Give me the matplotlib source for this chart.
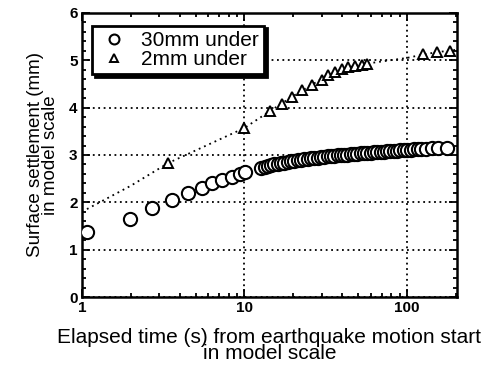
import matplotlib
matplotlib.use("Agg")
import matplotlib.pyplot as plt
from matplotlib.ticker import LogLocator, MultipleLocator, NullFormatter, FixedFormatter, FixedLocator

plt.rcParams['font.family'] = ['Liberation Sans', 'DejaVu Sans']

# 30mm under (circles)
t30 = [1.08, 1.97, 2.7, 3.6, 4.5, 5.5, 6.3, 7.3, 8.4, 9.4, 10.1,
       12.7, 13.3, 14.0, 14.6, 15.3, 16.0, 16.8, 17.6, 18.5, 19.4,
       20.3, 21.3, 22.3, 23.4, 24.5, 25.7, 26.9, 28.2, 29.6, 31.0,
       32.5, 34.0, 35.7, 37.4, 39.2, 41.0, 43.0, 45.1, 47.3, 49.5,
       51.9, 54.4, 57.0, 59.7, 62.6, 65.6, 68.7, 72.0, 75.5, 79.0,
       82.8, 86.8, 91.0, 95.3, 100, 105, 110, 116, 122, 131, 142, 155, 175]
s30 = [1.38, 1.65, 1.88, 2.05, 2.2, 2.3, 2.4, 2.47, 2.54, 2.6, 2.64,
       2.73, 2.75, 2.77, 2.79, 2.8, 2.82, 2.83, 2.84, 2.86, 2.87,
       2.88, 2.89, 2.9, 2.91, 2.92, 2.93, 2.94, 2.94, 2.95, 2.96,
       2.97, 2.97, 2.98, 2.99, 3.0, 3.0, 3.01, 3.02, 3.02, 3.03,
       3.04, 3.04, 3.05, 3.05, 3.06, 3.06, 3.07, 3.07, 3.08, 3.08,
       3.09, 3.09, 3.1, 3.1, 3.11, 3.11, 3.12, 3.12, 3.13, 3.13, 3.14, 3.14, 3.15]

# 2mm under (triangles)
t2 = [3.4, 10, 14.4, 17, 19.6, 22.5, 25.9, 29.8, 32.6, 35.9, 39.8,
      43.5, 47.9, 52.6, 56.6, 125, 152, 183]
s2 = [2.83, 3.57, 3.93, 4.08, 4.23, 4.38, 4.48, 4.59, 4.69, 4.76, 4.82,
      4.85, 4.88, 4.9, 4.92, 5.14, 5.18, 5.2]

# dotted guide line
tfit = [1, 2, 3.4, 10, 14.4, 19.6, 25.9, 32.6, 43.5, 56.6, 100, 125, 152, 200]
sfit = [1.8, 2.35, 2.83, 3.57, 3.93, 4.23, 4.48, 4.69, 4.85, 4.93, 5.05, 5.12, 5.17, 5.22]

fig = plt.figure(figsize=(4.99, 3.69), dpi=100)
ax = fig.add_axes([0.164, 0.195, 0.752, 0.77])

ax.plot(tfit, sfit, color='black', linestyle=(0, (1, 2.2)), linewidth=1.3, zorder=2)
ax.plot(t30, s30, 'o', mfc='white', mec='black', mew=1.5, ms=9.5, linestyle='none',
        label='30mm under', zorder=3)
ax.plot(t2, s2, '^', mfc='white', mec='black', mew=1.4, ms=7.5, linestyle='none',
        label='2mm under', zorder=3)

ax.set_xscale('log')
ax.set_xlim(1, 203)
ax.set_ylim(0, 6)

ax.xaxis.set_major_locator(FixedLocator([1, 10, 100]))
ax.xaxis.set_major_formatter(FixedFormatter(['1', '10', '100']))
ax.xaxis.set_minor_locator(LogLocator(base=10, subs=range(2, 10)))
ax.xaxis.set_minor_formatter(NullFormatter())
ax.yaxis.set_major_locator(MultipleLocator(1))
ax.yaxis.set_minor_locator(MultipleLocator(0.2))

ax.grid(True, which='major', color='black', linestyle=(0, (1, 2)), linewidth=1.3)
ax.tick_params(which='both', direction='in', top=True, right=True, width=1.3)
ax.tick_params(which='major', length=6, labelsize=11, pad=3)
ax.tick_params(which='minor', length=3)
for lab in ax.get_xticklabels() + ax.get_yticklabels():
    lab.set_fontweight('bold')
for sp in ax.spines.values():
    sp.set_linewidth(1.8)

ax.set_xlabel('Elapsed time (s) from earthquake motion start\nin model scale',
              fontsize=15, linespacing=0.85, labelpad=9, fontweight='medium')
ax.set_ylabel('Surface settlement (mm)\nin model scale',
              fontsize=13.5, linespacing=0.9, labelpad=7,
              family=['Liberation Sans Narrow', 'Liberation Sans'])

leg = ax.legend(loc='upper left', bbox_to_anchor=(0.027, 0.955), fontsize=15,
                frameon=True, fancybox=False, shadow={'color': 'black', 'alpha': 1},
                handletextpad=0.5, borderpad=0.25, labelspacing=0.0,
                handlelength=1.6, borderaxespad=0, markerscale=0.75)
leg.get_frame().set_edgecolor('black')
leg.get_frame().set_linewidth(2)
leg.get_frame().set_alpha(1)

fig.savefig('out.png', dpi=100)
